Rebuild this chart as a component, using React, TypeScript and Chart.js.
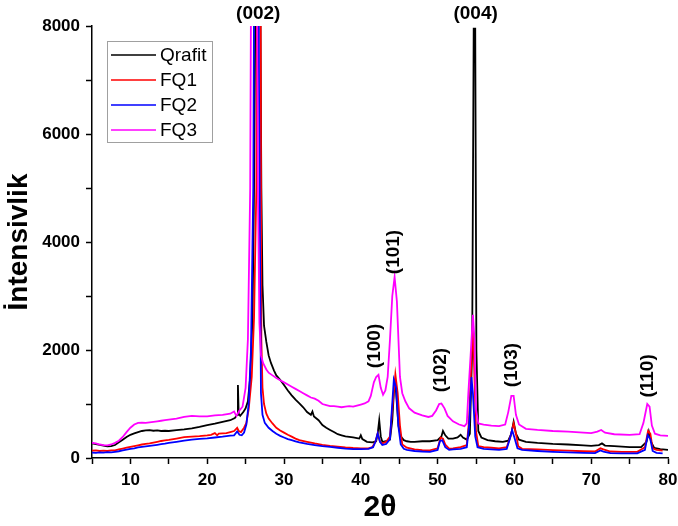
import React, { useEffect, useRef } from "react";
import { Chart, registerables } from "chart.js";

Chart.register(...registerables);

// ---- Data ----
const qrafitX = [5.0,5.5,6.0,6.5,7.0,7.5,8.0,8.5,9.0,9.5,10.0,10.5,11.0,11.5,12.0,12.5,13.0,13.5,14.0,14.5,15.0,16.0,17.0,18.0,19.0,20.0,21.0,22.0,23.0,23.6,23.9,24.0,24.1,24.3,24.7,25.0,25.3,25.6,25.9,26.1,26.3,26.5,26.7,26.9,27.05,27.2,27.4,27.7,28.0,28.3,28.7,29.0,29.5,30.0,30.5,31.0,31.5,32.0,32.5,33.0,33.5,33.7,33.9,34.5,35.0,35.5,36.0,36.5,37.0,37.5,38.0,38.5,39.0,39.5,39.8,40.0,40.2,40.8,41.5,42.0,42.2,42.4,42.6,42.8,43.3,43.8,44.1,44.4,44.6,44.9,45.2,45.6,46.0,46.5,47.0,48.0,49.0,50.0,50.5,50.7,51.0,51.4,52.0,52.6,53.0,53.3,53.8,54.2,54.5,54.7,54.9,55.05,55.3,55.7,56.5,57.5,58.5,59.2,59.6,59.9,60.2,60.6,61.5,63.0,65.0,67.0,69.0,70.0,71.0,71.4,71.8,73.0,75.0,76.5,77.2,77.5,77.8,78.2,79.0,80.0];
const qrafitY = [270,255,245,230,215,220,240,290,340,390,430,455,480,500,510,515,505,510,500,505,500,515,530,550,575,610,635,670,700,740,800,1350,820,780,850,920,1050,1500,2600,5000,9000,20000,20000,9000,5000,3200,2450,2150,1900,1760,1620,1530,1450,1350,1250,1160,1080,1010,940,850,800,860,770,700,610,560,520,480,440,420,400,390,380,370,360,420,350,300,290,310,450,700,400,300,310,340,700,1450,1200,600,400,330,310,300,300,310,310,330,400,500,420,360,360,380,430,380,340,450,2000,7950,7950,2000,500,380,330,310,300,320,450,670,450,340,300,280,260,250,235,225,240,270,230,220,200,200,300,490,300,185,165,150];

const fq1X = [5.0,5.5,6.0,6.5,7.0,7.5,8.0,8.5,9.0,9.5,10.0,10.5,11.0,11.5,12.0,12.5,13.0,13.5,14.0,14.5,15.0,16.0,17.0,18.0,19.0,20.0,20.5,21.0,21.3,21.5,22.0,22.5,23.0,23.5,23.9,24.1,24.4,24.8,25.1,25.4,25.8,26.1,26.4,26.6,26.8,26.95,27.05,27.2,27.4,27.7,28.0,28.5,29.0,29.5,30.0,30.5,31.0,31.5,32.0,33.0,34.0,35.0,36.0,37.0,38.0,39.0,40.0,41.0,41.5,41.9,42.2,42.5,42.8,43.3,43.8,44.1,44.5,44.8,45.1,45.4,46.0,47.0,48.0,49.0,50.0,50.4,50.7,51.0,51.5,52.0,53.0,53.8,54.1,54.4,54.6,54.8,55.0,55.3,56.0,57.0,58.0,59.0,59.5,59.9,60.2,60.5,61.0,63.0,65.0,67.0,69.0,70.5,71.2,71.6,72.5,74.0,76.0,77.0,77.4,77.7,78.0,78.5,79.3];
const fq1Y = [135,140,130,135,130,140,140,160,175,190,205,220,235,250,260,270,285,300,315,325,335,360,385,395,405,420,430,460,420,450,455,460,480,500,560,500,480,560,650,900,1500,2600,5000,12000,20000,9000,2200,1300,1000,820,730,640,560,510,470,430,395,360,330,300,270,245,225,210,195,185,180,180,200,300,455,300,270,300,400,900,1550,1200,600,250,190,160,145,140,180,380,360,250,175,180,200,240,700,1800,2500,1500,500,220,200,190,180,200,400,640,450,220,170,160,145,135,125,120,180,160,120,115,115,200,500,450,180,150,135];

const fq2X = [5.0,5.5,6.0,6.5,7.0,7.5,8.0,8.5,9.0,9.5,10.0,10.5,11.0,11.5,12.0,12.5,13.0,13.5,14.0,14.5,15.0,16.0,17.0,18.0,19.0,20.0,21.0,22.0,23.0,23.5,23.9,24.2,24.5,24.8,25.1,25.4,25.7,26.0,26.2,26.45,26.7,26.85,27.0,27.2,27.5,28.0,28.5,29.0,29.5,30.0,30.5,31.0,31.5,32.0,33.0,34.0,35.0,36.0,37.0,38.0,39.0,40.0,41.0,41.6,41.9,42.2,42.5,42.8,43.3,43.8,44.0,44.3,44.6,44.9,45.2,45.6,46.0,47.0,48.0,49.0,50.0,50.3,50.6,51.0,51.5,52.0,53.0,53.8,54.1,54.4,54.6,54.9,55.2,56.0,57.0,58.0,59.0,59.4,59.7,60.0,60.4,61.0,63.0,65.0,67.0,69.0,70.5,71.2,71.6,72.5,74.0,76.0,77.0,77.35,77.7,78.0,78.5,79.3];
const fq2Y = [100,95,105,100,110,105,115,125,140,155,170,180,195,205,215,225,235,245,255,265,280,300,320,340,355,365,380,395,415,420,490,430,420,470,620,1000,2000,5000,12000,20000,8000,4500,1200,800,650,560,500,450,410,380,350,330,310,290,260,240,220,205,190,175,165,165,170,200,300,455,300,240,260,350,800,1450,1300,580,250,170,150,130,120,115,150,310,330,200,150,160,170,200,600,1500,1200,400,200,170,160,150,170,350,520,380,180,150,130,115,105,95,90,140,120,90,85,85,150,425,350,130,95,85];

const fq3X = [5.0,5.5,6.0,6.5,7.0,7.5,8.0,8.5,9.0,9.5,10.0,10.5,11.0,11.5,12.0,12.5,13.0,13.5,14.0,14.5,15.0,16.0,17.0,18.0,19.0,20.0,21.0,22.0,23.0,23.5,23.8,24.2,24.6,25.0,25.3,25.6,25.8,26.1,26.4,26.6,26.8,27.0,27.3,27.7,28.0,28.5,29.0,29.5,30.0,30.5,31.0,31.5,32.0,32.5,33.0,33.5,34.0,34.5,35.0,35.5,36.0,36.5,37.0,37.5,38.0,38.5,39.0,39.5,40.0,40.5,41.0,41.3,41.7,42.0,42.3,42.6,42.9,43.2,43.5,43.8,44.1,44.4,44.7,44.9,45.1,45.4,45.8,46.3,47.0,48.0,48.8,49.3,49.8,50.2,50.5,50.9,51.3,52.0,52.8,53.5,53.8,54.0,54.3,54.6,54.8,55.0,55.3,56.0,57.0,58.0,58.8,59.2,59.6,59.9,60.2,60.6,61.5,63.0,65.0,67.0,69.0,70.0,70.8,71.3,71.8,73.0,75.0,76.3,76.8,77.3,77.6,77.9,78.3,79.0,80.0];
const fq3Y = [280,270,250,240,235,250,280,320,390,480,560,620,650,655,650,660,670,680,690,700,710,730,760,780,770,770,790,800,820,860,780,880,950,1300,2200,5000,12000,25000,12000,5000,2500,1900,1750,1640,1580,1530,1480,1440,1400,1360,1320,1280,1240,1200,1160,1120,1100,1060,1000,980,960,960,950,940,950,960,950,970,990,1010,1050,1150,1400,1500,1540,1300,1170,1250,1500,2200,3000,3350,2900,2200,1500,1200,1050,920,840,790,760,780,880,1000,1010,920,780,680,620,590,640,1200,1900,2650,2200,900,640,620,600,590,620,850,1150,1150,800,620,540,520,500,490,470,460,490,520,470,440,430,440,650,1000,950,600,450,420,410];

const seriesNames = ["Qrafit", "FQ1", "FQ2", "FQ3"];
const seriesColors = ["#000000", "#ff0000", "#0000ff", "#ff00ff"];

const xTicksMajor = [10, 20, 30, 40, 50, 60, 70, 80];
const yTicksMajor = [0, 2000, 4000, 6000, 8000];

const peakLabels = ["(002)", "(004)", "(100)", "(101)", "(102)", "(103)", "(110)"];
const peakX = [26.65, 54.95, 41.78, 44.26, 50.39, 59.65, 77.39];
const peakY = [8220, 8220, 2075, 3815, 1630, 1720, 1520];
const peakVertical = [false, false, true, true, true, true, true];

const FONT = "'Liberation Sans', Arial, sans-serif";

function toPoints(xs: number[], ys: number[]) {
  return xs.map((x, i) => ({ x, y: ys[i] }));
}

const peakLabelPlugin = {
  id: "peakLabels",
  afterDatasetsDraw(chart: any) {
    const { ctx, scales } = chart;
    ctx.save();
    ctx.fillStyle = "#000";
    ctx.font = `bold 19px ${FONT}`;
    ctx.textAlign = "center";
    ctx.textBaseline = "middle";
    peakLabels.forEach((t, i) => {
      const px = scales.x.getPixelForValue(peakX[i]);
      const py = scales.y.getPixelForValue(peakY[i]);
      ctx.save();
      ctx.translate(px, py);
      if (peakVertical[i]) ctx.rotate(-Math.PI / 2);
      ctx.fillText(t, 0, 0);
      ctx.restore();
    });
    ctx.restore();
  },
};

const boxLegendPlugin = {
  id: "boxLegend",
  afterDraw(chart: any) {
    const { ctx } = chart;
    const bx = 107.5, by = 41.5, bw = 105, bh = 101;
    ctx.save();
    ctx.fillStyle = "#fff";
    ctx.fillRect(bx, by, bw, bh);
    ctx.strokeStyle = "#a0a0a0";
    ctx.lineWidth = 1;
    ctx.strokeRect(bx, by, bw, bh);
    ctx.font = `19px ${FONT}`;
    ctx.textBaseline = "middle";
    ctx.textAlign = "left";
    chart.data.datasets.forEach((ds: any, i: number) => {
      const y = 55 + i * 25;
      ctx.strokeStyle = ds.borderColor;
      ctx.lineWidth = 1.5;
      ctx.beginPath();
      ctx.moveTo(111, y);
      ctx.lineTo(156, y);
      ctx.stroke();
      ctx.fillStyle = "#000";
      ctx.fillText(ds.label, 160, y + 1);
    });
    ctx.restore();
  },
};

export default function App() {
  const ref = useRef<HTMLCanvasElement | null>(null);

  useEffect(() => {
    if (!ref.current) return;
    const xs = [qrafitX, fq1X, fq2X, fq3X];
    const ys = [qrafitY, fq1Y, fq2Y, fq3Y];
    const chart = new Chart(ref.current, {
      type: "line",
      data: {
        datasets: seriesNames.map((name, i) => ({
          label: name,
          data: toPoints(xs[i], ys[i]),
          borderColor: seriesColors[i],
          backgroundColor: seriesColors[i],
          borderWidth: 1.8,
          pointRadius: 0,
          tension: 0,
          fill: false,
          order: 4 - i,
        })),
      },
      options: {
        animation: false,
        responsive: false,
        devicePixelRatio: 1,
        layout: { padding: { top: 26, right: 10, left: 0, bottom: 0 } },
        plugins: { legend: { display: false }, tooltip: { enabled: false } },
        scales: {
          x: {
            type: "linear",
            min: 5,
            max: 80,
            afterFit: (s: any) => {
              s.height = 68;
              s.paddingLeft = 0;
              s.paddingRight = 0;
            },
            ticks: {
              stepSize: 5,
              autoSkip: false,
              maxRotation: 0,
              color: "#000",
              padding: 6,
              font: { family: FONT, size: 17, weight: "bold" },
              callback: (v: any) => (xTicksMajor.includes(Number(v)) ? String(v) : ""),
            },
            grid: { display: true, drawOnChartArea: false, drawTicks: true, tickLength: 6, tickColor: "#000", tickWidth: 1.5 },
            border: { display: true, color: "#000", width: 1.5 },
            title: {
              display: true,
              text: "2θ",
              color: "#000",
              font: { family: FONT, size: 30, weight: "bold" },
              padding: { top: 0, bottom: 0 },
            },
          },
          y: {
            type: "linear",
            min: 0,
            max: 8000,
            afterFit: (s: any) => {
              s.width = 92;
              s.paddingTop = 0;
              s.paddingBottom = 0;
            },
            ticks: {
              stepSize: 1000,
              autoSkip: false,
              color: "#000",
              padding: 6,
              font: { family: FONT, size: 17, weight: "bold" },
              callback: (v: any) => (yTicksMajor.includes(Number(v)) ? String(v) : ""),
            },
            grid: { display: true, drawOnChartArea: false, drawTicks: true, tickLength: 6, tickColor: "#000", tickWidth: 1.5 },
            border: { display: true, color: "#000", width: 1.5 },
            title: {
              display: true,
              text: "İntensivlik",
              color: "#000",
              font: { family: FONT, size: 28, weight: "bold" },
              padding: { top: 2, bottom: 0 },
            },
          },
        },
      },
      plugins: [peakLabelPlugin, boxLegendPlugin],
    });
    return () => chart.destroy();
  }, []);

  return (
    <div style={{ position: "fixed", left: 0, top: 0, width: 678, height: 526, background: "#fff" }}>
      <canvas ref={ref} width={678} height={526} />
    </div>
  );
}
